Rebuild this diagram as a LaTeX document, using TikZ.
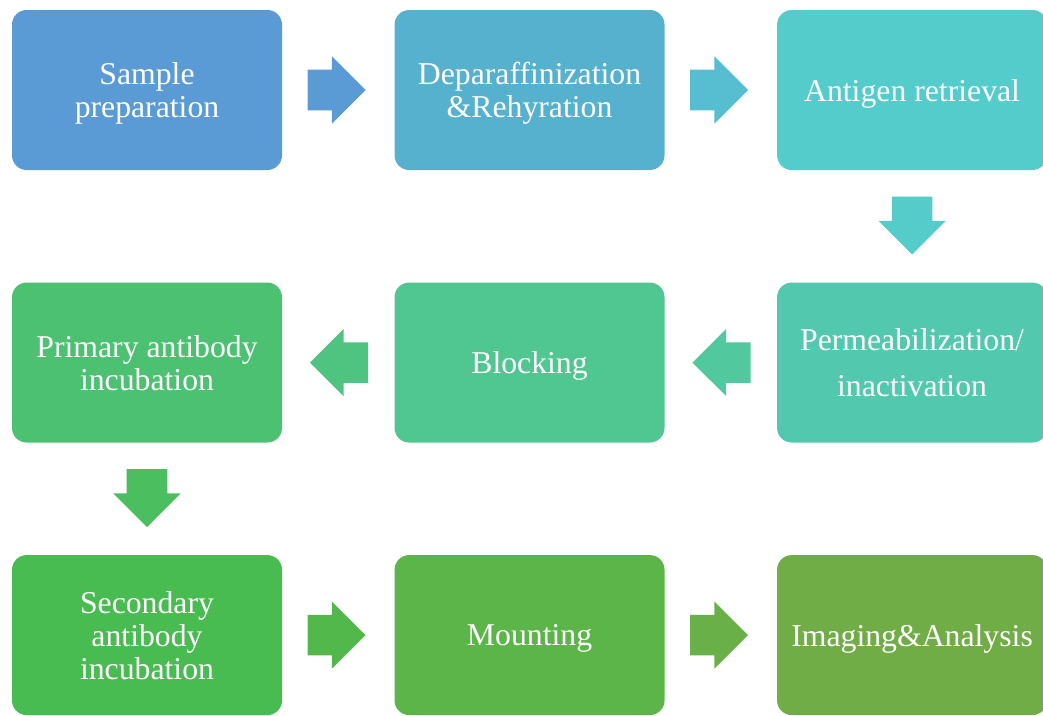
\documentclass[tikz,border=0pt]{standalone}
\usepackage{fontspec}
\setmainfont{Liberation Serif}
\usetikzlibrary{positioning,shapes.arrows,calc}

\definecolor{boxA}{HTML}{5B9BD5}
\definecolor{boxB}{HTML}{56B1CF}
\definecolor{boxC}{HTML}{55CCCC}
\definecolor{boxD}{HTML}{52C8AE}
\definecolor{boxE}{HTML}{50C690}
\definecolor{boxF}{HTML}{4CC171}
\definecolor{boxG}{HTML}{48BB51}
\definecolor{boxH}{HTML}{5BB548}
\definecolor{boxI}{HTML}{70AD47}

\definecolor{arrA}{HTML}{5B9BD5}
\definecolor{arrB}{HTML}{57BDD0}
\definecolor{arrC}{HTML}{55CCCA}
\definecolor{arrD}{HTML}{52C89E}
\definecolor{arrE}{HTML}{4EC480}
\definecolor{arrF}{HTML}{4BBF60}
\definecolor{arrG}{HTML}{52B84B}
\definecolor{arrH}{HTML}{68B047}

\tikzset{
  stepbox/.style={rounded corners=11pt, minimum width=202.5pt, minimum height=120pt,
    inner sep=0pt, text depth=0pt, text=white, align=center,
    font=\fontsize{23.8}{24.8}\selectfont},
  flowarrow/.style={single arrow, draw=none, inner xsep=0pt, inner ysep=15pt,
    minimum height=43.5pt, minimum width=50pt, single arrow head extend=10pt,
    anchor=tail},
}

\begin{document}
\begin{tikzpicture}[x=0.75pt,y=-0.75pt,node distance=84pt]

    \useasboundingbox (0,0) rectangle (1043,715);

    % steps
    \node[stepbox, fill=boxA] (prep) at (147,90) {Sample\\preparation};
    \node[stepbox, fill=boxB, right=of prep] (depar) {Deparaffinization\\\&Rehyration};
    \node[stepbox, fill=boxC, right=of depar] (retr) {Antigen retrieval};
    \node[stepbox, fill=boxD, below=of retr] (perm) {Permeabilization/\\[10pt]inactivation};
    \node[stepbox, fill=boxE, left=of perm] (block) {Blocking};
    \node[stepbox, fill=boxF, left=of block] (prim) {Primary antibody\\incubation};
    \node[stepbox, fill=boxG, below=of prim] (sec) {Secondary\\antibody\\incubation};
    \node[stepbox, fill=boxH, right=of sec] (mount) {Mounting};
    \node[stepbox, fill=boxI, right=of mount] (img) {Imaging\&Analysis};

    % block arrows
    \node[flowarrow, fill=arrA] (a1) at ($(prep.east)+(25,0)$) {};
    \node[flowarrow, fill=arrB] (a2) at ($(depar.east)+(25,0)$) {};
    \node[flowarrow, fill=arrC, rotate=-90] (a3) at ($(retr.south)+(0,26)$) {};
    \node[flowarrow, fill=arrD, rotate=180] (a4) at ($(perm.west)+(-26,0)$) {};
    \node[flowarrow, fill=arrE, rotate=180] (a5) at ($(block.west)+(-26,0)$) {};
    \node[flowarrow, fill=arrF, rotate=-90] (a6) at ($(prim.south)+(0,26)$) {};
    \node[flowarrow, fill=arrG] (a7) at ($(sec.east)+(25,0)$) {};
    \node[flowarrow, fill=arrH] (a8) at ($(mount.east)+(25,0)$) {};

\end{tikzpicture}
\end{document}
